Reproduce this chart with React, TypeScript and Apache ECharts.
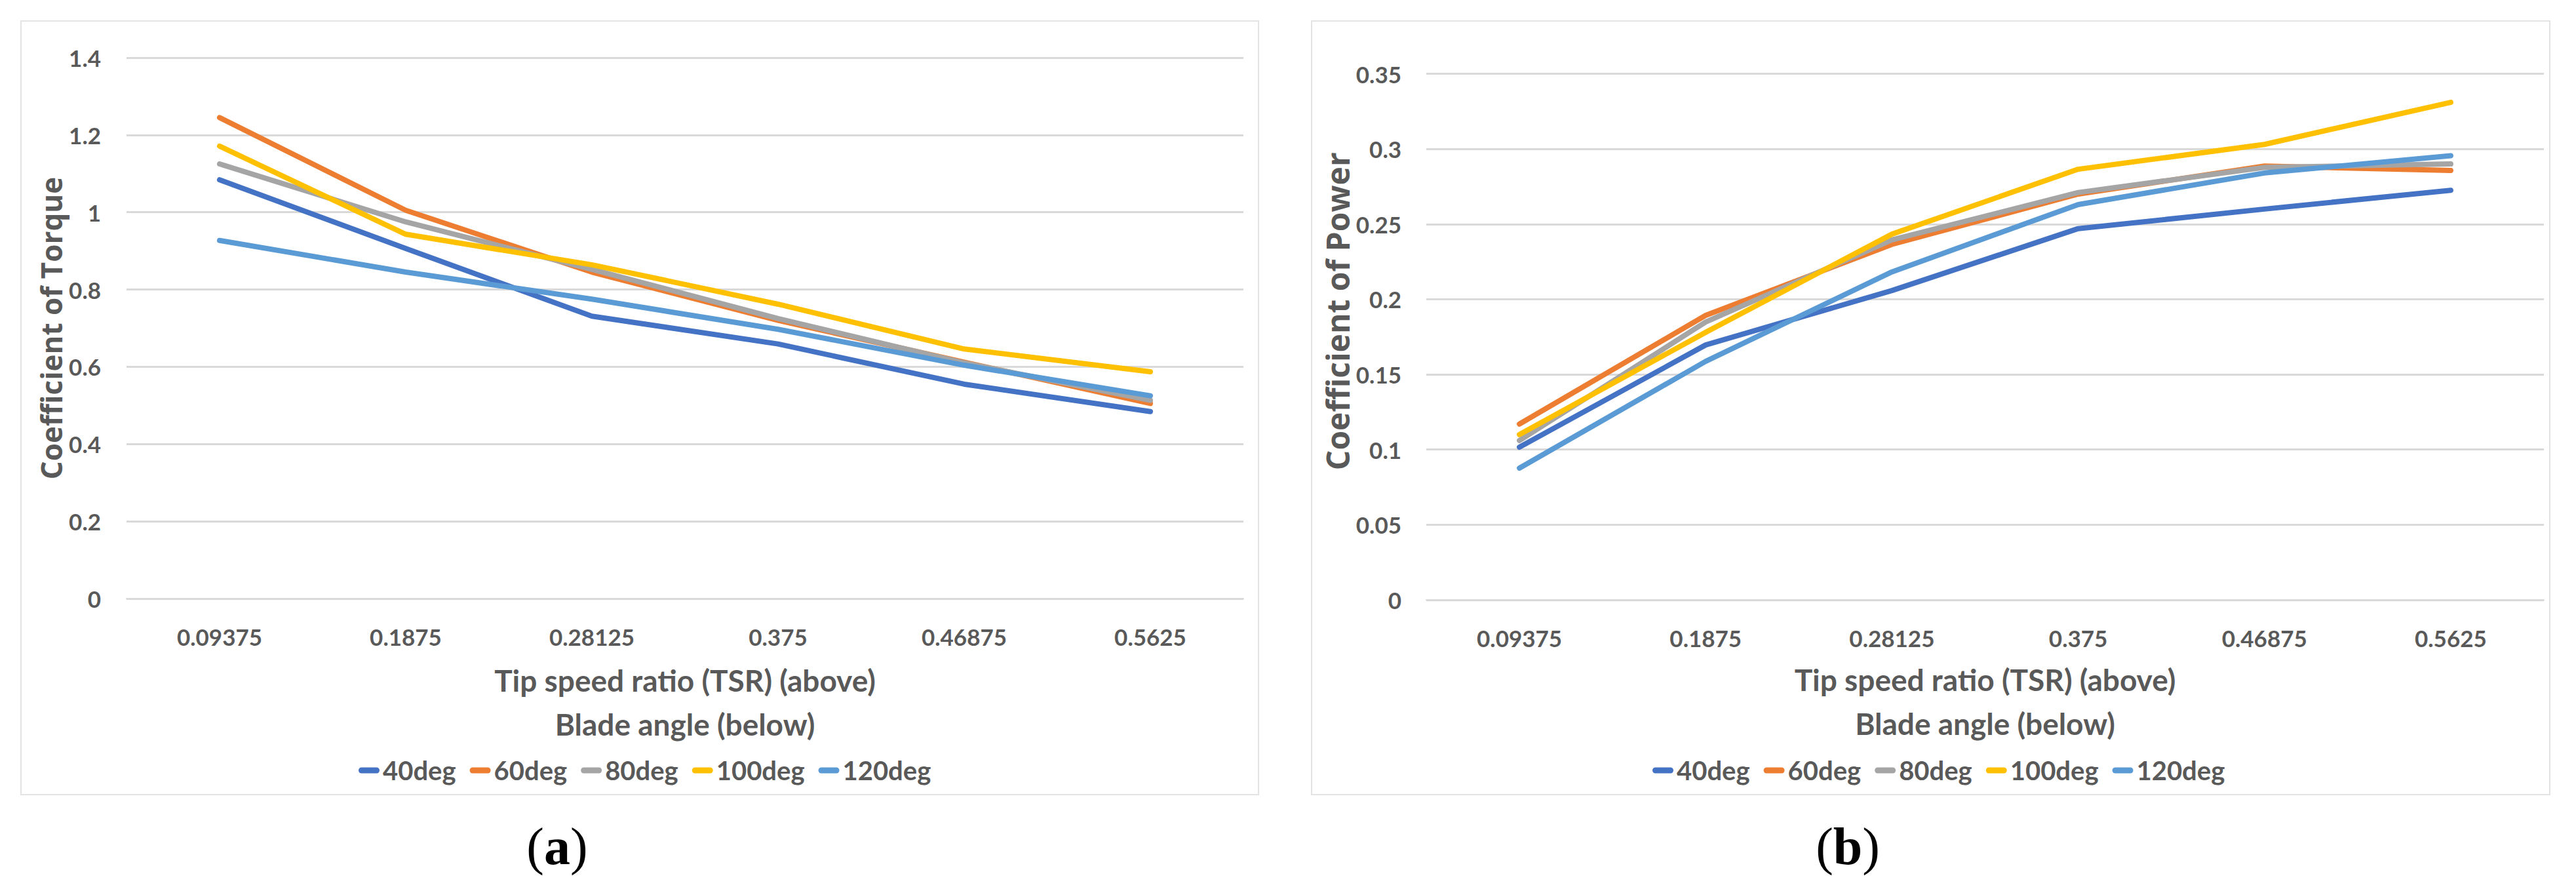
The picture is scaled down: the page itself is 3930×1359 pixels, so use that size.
import React, { useEffect, useRef } from "react";
import * as echarts from "echarts";

const categories = ["0.09375", "0.1875", "0.28125", "0.375", "0.46875", "0.5625"];
const seriesNames = ["40deg", "60deg", "80deg", "100deg", "120deg"];
const seriesColors = ["#4472C4", "#ED7D31", "#A5A5A5", "#FFC000", "#5B9BD5"];

// Panel (a): coefficient of torque
const torque40 = [1.084, 0.906, 0.731, 0.659, 0.555, 0.484];
const torque60 = [1.245, 1.005, 0.845, 0.72, 0.612, 0.505];
const torque80 = [1.125, 0.975, 0.852, 0.725, 0.61, 0.513];
const torque100 = [1.171, 0.943, 0.864, 0.762, 0.646, 0.587];
const torque120 = [0.927, 0.845, 0.775, 0.697, 0.604, 0.525];

// Panel (b): coefficient of power
const power40 = [0.1016, 0.1696, 0.2058, 0.247, 0.26, 0.2725];
const power60 = [0.117, 0.1893, 0.2365, 0.27, 0.2886, 0.2857];
const power80 = [0.106, 0.1849, 0.2395, 0.271, 0.2877, 0.29];
const power100 = [0.11, 0.178, 0.2433, 0.2865, 0.303, 0.331];
const power120 = [0.0877, 0.1587, 0.2182, 0.263, 0.284, 0.2955];

// Axis ranges [min, max, interval]
const torqueAxis = [0, 1.4, 0.2];
const powerAxis = [0, 0.35, 0.05];

const xTitle = "Tip speed ratio (TSR) (above)\nBlade angle (below)";
const torqueTitle = "Coefficient of Torque";
const powerTitle = "Coefficient of Power";

const torqueData = [torque40, torque60, torque80, torque100, torque120];
const powerData = [power40, power60, power80, power100, power120];

const TXT = "#595959";
const GRID = "#D9D9D9";
const FONT = "Lato";

export default function App() {
  const ref = useRef<HTMLDivElement>(null);

  useEffect(() => {
    if (!ref.current) return;
    const chart = echarts.init(ref.current, null, { renderer: "svg" });

    const makeX = (gridIndex: number, nameGap: number) => ({
      type: "category",
      gridIndex,
      data: categories,
      boundaryGap: true,
      axisTick: { show: false },
      axisLine: { show: true, lineStyle: { color: GRID, width: 2 } },
      axisLabel: {
        color: TXT,
        fontFamily: FONT,
        fontWeight: "bold",
        fontSize: 35,
        margin: 40,
      },
      name: xTitle,
      nameLocation: "middle",
      nameGap,
      nameTextStyle: {
        color: TXT,
        fontFamily: FONT,
        fontWeight: "bold",
        fontSize: 46,
        lineHeight: 67,
      },
      splitLine: { show: false },
    });

    const makeY = (
      gridIndex: number,
      range: number[],
      name: string,
      nameGap: number,
      nameSize: number,
      padding: number[],
      margin: number
    ) => ({
      type: "value",
      gridIndex,
      min: range[0],
      max: range[1],
      interval: range[2],
      axisLine: { show: false },
      axisTick: { show: false },
      axisLabel: {
        color: TXT,
        fontFamily: FONT,
        fontWeight: "bold",
        fontSize: 35,
        margin,
        formatter: (v: number) => String(+v.toFixed(3)),
      },
      splitLine: { show: true, lineStyle: { color: GRID, width: 3 } },
      name,
      nameLocation: "middle",
      nameGap,
      nameTextStyle: {
        color: TXT,
        fontFamily: "Open Sans",
        fontWeight: "bold",
        fontSize: nameSize,
        padding,
      },
    });

    const series: any[] = [];
    seriesNames.forEach((n, i) => {
      series.push({
        type: "line",
        name: n,
        xAxisIndex: 0,
        yAxisIndex: 0,
        data: torqueData[i],
        showSymbol: false,
        symbol: "none",
        lineStyle: { width: 8, color: seriesColors[i], cap: "round", join: "round" },
        itemStyle: { color: seriesColors[i] },
      });
    });
    seriesNames.forEach((n, i) => {
      series.push({
        type: "line",
        name: n,
        xAxisIndex: 1,
        yAxisIndex: 1,
        data: powerData[i],
        showSymbol: false,
        symbol: "none",
        lineStyle: { width: 8, color: seriesColors[i], cap: "round", join: "round" },
        itemStyle: { color: seriesColors[i] },
      });
    });

    const legendIcon =
      "path://M4.5,0 L27.5,0 A4.5,4.5 0 0 1 27.5,9 L4.5,9 A4.5,4.5 0 0 1 4.5,0 Z";
    const makeLegend = (left: number) => ({
      left,
      top: 1150,
      orient: "horizontal",
      data: seriesNames,
      icon: legendIcon,
      itemWidth: 32,
      itemHeight: 9,
      itemGap: 21,
      selectedMode: false,
      textStyle: {
        color: TXT,
        fontFamily: FONT,
        fontWeight: "bold",
        fontSize: 40,
        lineHeight: 40,
      },
    });

    const caption = (x: number, letter: string) => ({
      type: "text",
      x,
      y: 1291,
      style: {
        text: "{p|(}{b|" + letter + "}{p|)}",
        align: "center",
        verticalAlign: "middle",
        fill: "#000",
        rich: {
          p: { fontFamily: "Liberation Serif", fontSize: 80, fill: "#000" },
          b: {
            fontFamily: "Liberation Serif",
            fontSize: 80,
            fontWeight: "bold",
            fill: "#000",
          },
        },
      },
    });

    chart.setOption({
      animation: false,
      backgroundColor: "#fff",
      grid: [
        { left: 193, top: 88, width: 1704, height: 825, containLabel: false },
        { left: 2176, top: 112.5, width: 1705, height: 802.5, containLabel: false },
      ],
      xAxis: [makeX(0, 91), makeX(1, 88)],
      yAxis: [
        makeY(0, torqueAxis, torqueTitle, 93, 44, [0, 0, 0, 0], 39),
        makeY(1, powerAxis, powerTitle, 110, 48, [0, 0, 0, 78], 38),
      ],
      legend: [makeLegend(542), makeLegend(2516)],
      graphic: [
        {
          type: "rect",
          shape: { x: 32, y: 32, width: 1888, height: 1180 },
          style: { fill: "none", stroke: "#E3E3E3", lineWidth: 2 },
          z: -1,
        },
        {
          type: "rect",
          shape: { x: 2001, y: 32, width: 1889, height: 1180 },
          style: { fill: "none", stroke: "#E3E3E3", lineWidth: 2 },
          z: -1,
        },
        caption(850, "a"),
        caption(2819, "b"),
      ],
      series,
    });

    return () => chart.dispose();
  }, []);

  return (
    <div
      ref={ref}
      style={{
        position: "fixed",
        left: 0,
        top: 0,
        width: 3930,
        height: 1359,
        background: "#fff",
      }}
    />
  );
}
